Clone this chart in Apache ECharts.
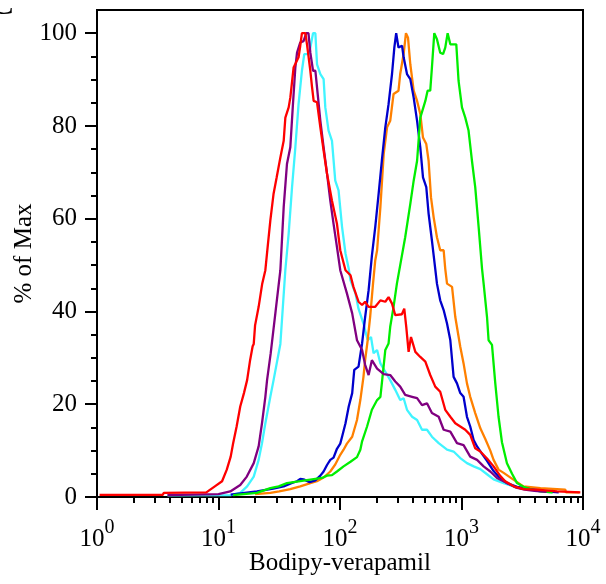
<!DOCTYPE html>
<html><head><meta charset="utf-8">
<script src="https://cdn.jsdelivr.net/npm/echarts@6/dist/echarts.min.js"></script>
<style>html,body{margin:0;padding:0;background:#fff}#c{width:606px;height:584px}</style>
</head><body><div id="c"></div>
<script>
// ---- axis ticks ----
const xMajorTicks = [1, 10, 100, 1000, 10000];
const xMinorTicks = [2,3,4,5,6,7,8,9,20,30,40,50,60,70,80,90,200,300,400,500,600,700,800,900,2000,3000,4000,5000,6000,7000,8000,9000];
const yMajorTicks = [0, 20, 40, 60, 80, 100];
const yMinorTicks = [5,10,15,25,30,35,45,50,55,65,70,75,85,90,95];

// ---- series data: [fluorescence, % of max] ----
const cyanData = [[3.80,0.35],[12.6,0.4],[15.1,0.9],[17.2,2.3],[19.5,4.4],[21.4,8.0],[22.8,11.6],[24.3,15.9],[26.7,21.6],[28.4,25.2],[32.3,33],[35.5,49],[37.8,56.8],[40.3,66.8],[42.9,75.4],[45.6,84.7],[48.6,91.9],[50.8,95.5],[55.2,95.5],[57.0,96.9],[60.0,100],[62.7,100],[64.7,93.3],[68.9,91.2],[73.3,90.1],[75.7,84],[80.5,79],[85.9,76.8],[91.4,68.2],[97.3,66.1],[104,58.2],[111,52.5],[118,49.2],[122,46.7],[134,43.9],[142,40.6],[156,37.4],[169,33.8],[180,34.5],[189,31],[202,31.7],[215,28.8],[236,27],[259,25.2],[285,23.1],[313,20.9],[334,21.3],[356,18.8],[392,17.3],[431,16.6],[473,14.5],[520,14.5],[571,13.0],[649,11.6],[760,10.2],[861,9.8],[977,8.4],[1109,7.3],[1259,6.6],[1429,6.0],[1622,4.9],[1837,3.8],[2223,3.0],[2692,2.3],[3459,1.8],[4467,1.2],[5623,1.0]];
const orangeData = [[20.0,0.6],[26.7,0.9],[31.6,1.2],[39.0,1.7],[47.1,2.3],[57.0,3.0],[64.6,3.4],[73.3,4.2],[83.2,5.5],[91.4,7.0],[100.5,9.1],[107,10.2],[114,11.5],[126,13.0],[138,16.6],[147,20.9],[156,25.9],[161,29.5],[169,33.8],[177,38.8],[187,46],[195,51],[202,53.2],[215,62.5],[229,74],[244,79.7],[259,81.1],[276,86.9],[303,87.6],[313,91.2],[334,95.5],[349,100],[363,99],[379,93.3],[404,87.6],[431,85.4],[458,82.6],[482,77.5],[513,76.1],[536,72.5],[561,64.6],[590,60.3],[628,56],[668,53.2],[713,53.2],[735,49.2],[760,46],[836,45.3],[889,38.8],[977,32.4],[1040,28.8],[1109,24.5],[1180,21.6],[1297,18.1],[1429,14.8],[1570,12.5],[1726,10.0],[1837,8.0],[2018,5.9],[2223,5.2],[2692,3.7],[3236,2.3],[4467,1.9],[7145,1.6],[7244,1.0],[9333,1.0]];
const blueData = [[12.6,0.5],[20.7,1.2],[28.2,1.8],[34.4,2.3],[39.8,3.0],[44.3,3.4],[47.1,3.9],[50.1,3.8],[56.2,3.2],[62.7,3.6],[68.9,4.6],[73.3,5.5],[75.7,6.2],[78.2,6.9],[83.2,8.0],[88.5,8.5],[94.4,10.4],[100.5,11.5],[104,13.0],[111,15.9],[118,19.5],[126,22.4],[131,27.4],[142,28.1],[152,33.1],[161,38.8],[172,44.6],[183,52],[195,58.2],[208,65.4],[221,72.5],[236,79.7],[251,84.7],[268,91.2],[280,96.9],[290,100],[303,96.9],[324,97.3],[334,94.8],[356,91.2],[379,90.1],[404,86.1],[431,81.1],[458,75.4],[482,68.9],[513,66.8],[536,61.1],[571,55.3],[608,49.2],[628,46],[668,42.4],[713,40.3],[760,37.4],[809,33.8],[861,25.9],[918,24.5],[977,22.4],[1040,21.6],[1109,17.3],[1180,15.2],[1259,12.3],[1343,10.9],[1476,9.3],[1622,7.8],[1837,5.6],[2084,4.0],[2366,3.0],[2864,2.2],[3681,1.7],[5012,1.2],[6310,1.0]];
const greenData = [[13.2,0.4],[20.7,0.9],[26.7,1.9],[31.3,2.3],[36.6,3.0],[41.5,3.2],[47.1,3.4],[55.2,3.7],[62.7,3.9],[71.1,4.1],[78.2,4.6],[85.9,4.7],[94.4,5.5],[107,6.6],[122,7.6],[138,8.6],[147,10.2],[152,12.0],[167,15.2],[183,18.8],[202,20.9],[215,21.6],[221,24.5],[236,31.7],[251,33.1],[259,36.7],[276,41],[294,46],[313,50],[344,56],[379,63.2],[404,68.2],[431,72.5],[458,81.8],[504,85.4],[526,87.6],[553,87.6],[571,92.6],[597,100],[628,98.7],[668,95.8],[705,95.5],[735,96.9],[769,100],[809,97.6],[906,97.6],[946,89.7],[1009,84],[1074,81.8],[1143,79],[1219,72.5],[1297,66.8],[1384,58.2],[1476,49.2],[1521,46],[1622,38.8],[1671,33.8],[1782,32.8],[1897,24.5],[2018,17.3],[2153,11.8],[2366,7.3],[2606,5.0],[2864,3.0],[3236,2.2],[3681,1.7],[4467,1.2],[5623,1.0]];
const purpleData = [[3.80,0.4],[10.0,0.6],[12.5,1.2],[15.1,2.6],[17.1,4.4],[19.5,7.3],[21.4,10.9],[22.8,15.9],[24.3,21.6],[25.1,25.2],[26.9,31],[29.5,40],[32.3,48.9],[34.4,62.5],[36.6,71.8],[39.0,75.4],[41.0,84.7],[42.9,92.6],[44.3,95.8],[47.1,98],[50.1,98.3],[52.8,100],[55.0,100],[57.0,95.8],[60.0,91.9],[62.7,91.9],[64.7,88.3],[68.9,81.1],[73.3,75.4],[78.2,69.7],[83.2,63.9],[88.5,58.9],[94.4,53.9],[100.5,48.9],[114,43.9],[126,39.6],[138,33.8],[152,31.7],[161,28.5],[172,26.3],[183,29.5],[202,27.7],[229,26.5],[259,26.3],[285,24.9],[313,23.8],[344,22.0],[392,21.6],[431,21.3],[473,19.8],[520,20.2],[571,18.1],[649,17.3],[713,14.5],[809,14.1],[918,11.6],[1040,11.2],[1180,8.7],[1343,8.0],[1521,6.6],[1726,5.5],[1959,4.1],[2366,3.0],[2818,2.0],[3311,1.6],[3981,1.3],[5012,1.1]];
const redData = [[1.05,0.45],[3.47,0.45],[3.55,0.9],[7.94,1.0],[9.33,2.3],[10.7,3.4],[11.7,5.9],[12.6,8.7],[13.2,11.6],[14.1,15.2],[15.1,19.5],[16.2,22.4],[17.2,25.2],[18.2,29.5],[19.1,32.5],[19.5,33],[20.0,37],[20.4,37],[21.4,41],[22.9,46],[24.3,48.9],[25.4,54],[26.7,59.6],[28.4,65.4],[30.1,68.9],[32.3,73.2],[34.4,76.8],[35.5,81.8],[37.8,84],[39.0,86.1],[41.5,92.6],[42.9,92.6],[45.6,94.8],[47.1,97.3],[48.6,100],[51.8,100],[53.5,97.6],[57.0,91.9],[58.9,88.3],[60.7,85.4],[64.7,85.1],[68.9,79.7],[73.3,74.7],[78.2,69.7],[85.9,63.9],[94.4,58.9],[100.5,53.2],[111,48.9],[122,47.8],[129,45.3],[142,42.1],[152,41.4],[161,42.1],[172,41],[195,41],[215,42.4],[236,42.1],[251,43.1],[268,41.7],[285,39.2],[323,39.4],[338,40.6],[351,36.7],[367,31.3],[384,34.5],[398,34.3],[417,31.3],[458,30.2],[504,29.2],[553,26.3],[608,23.8],[668,22.7],[735,18.8],[809,17.3],[889,15.9],[977,15.2],[1074,14.5],[1180,13.4],[1297,10.5],[1429,9.8],[1622,8.3],[1837,6.6],[2089,4.5],[2291,3.4],[2692,2.3],[3236,1.7],[4169,1.6],[6109,1.2],[9506,1.0]];

const FONT = "'Liberation Serif','Times New Roman',serif";
const chart = echarts.init(document.getElementById('c'), null, {renderer: 'canvas', width: 606, height: 584});

function line(name, data, color) {
  return {name: name, type: 'line', data: data, symbol: 'none', showSymbol: false,
    lineStyle: {color: color, width: 2.3}, itemStyle: {color: color},
    xAxisIndex: 0, yAxisIndex: 0, animation: false, silent: true};
}
const tickStyle = {color: '#000', width: 2};

chart.setOption({
  animation: false,
  backgroundColor: '#fff',
  grid: {left: 97, right: 23, top: 10, bottom: 87, show: true, borderColor: '#000', borderWidth: 2,
         backgroundColor: 'transparent', containLabel: false, outerBoundsMode: 'none'},
  xAxis: [
    {type: 'log', logBase: 10, min: 1, max: 10000, position: 'bottom',
     name: 'Bodipy-verapamil', nameLocation: 'middle', nameGap: 54, nameMoveOverlap: false,
     nameTextStyle: {fontFamily: FONT, fontSize: 25, color: '#000'},
     axisLine: {show: true, onZero: false, lineStyle: tickStyle},
     axisTick: {show: true, customValues: xMajorTicks, length: 13, lineStyle: tickStyle},
     axisLabel: {show: true, customValues: xMajorTicks, margin: 21, color: '#000',
       formatter: function (v) { return '{b|10}{s|' + Math.round(Math.log10(v)) + '}'; },
       rich: {b: {fontFamily: FONT, fontSize: 25, color: '#000'},
              s: {fontFamily: FONT, fontSize: 20, color: '#000', padding: [0, 0, 22, 0]}}},
     splitLine: {show: false}, minorTick: {show: false}},
    {type: 'log', logBase: 10, min: 1, max: 10000, position: 'bottom',
     axisLine: {show: false, onZero: false},
     axisTick: {show: true, customValues: xMinorTicks, length: 6, lineStyle: tickStyle},
     axisLabel: {show: false}, splitLine: {show: false}}
  ],
  yAxis: [
    {type: 'value', min: 0, max: 105, position: 'left',
     name: '% of Max', nameLocation: 'middle', nameGap: 60, nameMoveOverlap: false,
     nameTextStyle: {fontFamily: FONT, fontSize: 25, color: '#000'},
     axisLine: {show: true, onZero: false, lineStyle: tickStyle},
     axisTick: {show: true, customValues: yMajorTicks, length: 12, lineStyle: tickStyle},
     axisLabel: {show: true, customValues: yMajorTicks, margin: 20, color: '#000', fontFamily: FONT, fontSize: 25},
     splitLine: {show: false}},
    {type: 'value', min: 0, max: 105, position: 'left',
     axisLine: {show: false, onZero: false},
     axisTick: {show: true, customValues: yMinorTicks, length: 6, lineStyle: tickStyle},
     axisLabel: {show: false}, splitLine: {show: false}}
  ],
  graphic: [
    {type: 'text', left: -9, top: -12, silent: true,
     style: {text: 'C', fontFamily: FONT, fontSize: 34, fill: '#000'}}
  ],
  series: [
    line('cyan', cyanData, '#40f4ff'),
    line('orange', orangeData, '#ff8000'),
    line('blue', blueData, '#0000cc'),
    line('green', greenData, '#00ee00'),
    line('purple', purpleData, '#800080'),
    line('red', redData, '#ff0000')
  ]
});
</script>
</body></html>
